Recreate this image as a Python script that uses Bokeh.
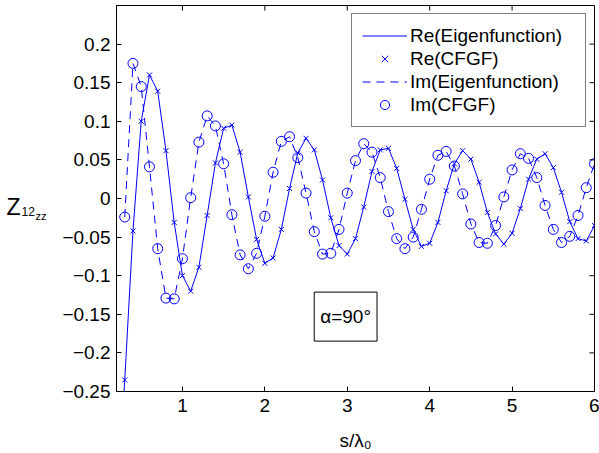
from bokeh.plotting import figure
from bokeh.layouts import row
from bokeh.core.properties import value
from bokeh.models import Range1d, FixedTicker, CustomJSTickFormatter, Label, Legend
from bokeh.embed import file_html
from bokeh.resources import INLINE
import math

# ---------------- data ----------------
s = [0.3, 0.4, 0.5, 0.6, 0.7, 0.8, 0.9, 1.0, 1.1, 1.2,
     1.3, 1.4, 1.5, 1.6, 1.7, 1.8, 1.9, 2.0, 2.1, 2.2,
     2.3, 2.4, 2.5, 2.6, 2.7, 2.8, 2.9, 3.0, 3.1, 3.2,
     3.3, 3.4, 3.5, 3.6, 3.7, 3.8, 3.9, 4.0, 4.1, 4.2,
     4.3, 4.4, 4.5, 4.6, 4.7, 4.8, 4.9, 5.0, 5.1, 5.2,
     5.3, 5.4, 5.5, 5.6, 5.7, 5.8, 5.9, 6.0]

re_cfgf = [-0.235, -0.042, 0.100, 0.160, 0.139, 0.062, -0.031, -0.100, -0.120, -0.089,
           -0.022, 0.046, 0.091, 0.095, 0.060, 0.002, -0.053, -0.084, -0.077, -0.040,
           0.013, 0.059, 0.078, 0.063, 0.024, -0.025, -0.061, -0.072, -0.052, -0.011,
           0.035, 0.063, 0.065, 0.039, -0.001, -0.040, -0.062, -0.058, -0.031, 0.010,
           0.045, 0.062, 0.051, 0.021, -0.018, -0.046, -0.059, -0.045, -0.013, 0.025,
           0.051, 0.058, 0.040, 0.008, -0.030, -0.052, -0.055, -0.035]

im_cfgf = [-0.024, 0.175, 0.145, 0.041, -0.065, -0.129, -0.130, -0.078, 0.001, 0.073,
           0.107, 0.094, 0.045, -0.021, -0.073, -0.091, -0.071, -0.023, 0.034, 0.074,
           0.080, 0.053, 0.007, -0.043, -0.072, -0.071, -0.040, 0.007, 0.049, 0.071,
           0.060, 0.027, -0.017, -0.052, -0.065, -0.050, -0.014, 0.025, 0.056, 0.061,
           0.042, 0.006, -0.033, -0.057, -0.058, -0.035, 0.002, 0.037, 0.058, 0.052,
           0.027, -0.009, -0.040, -0.057, -0.049, -0.022, 0.014, 0.045]

# eigenfunction curves (same samples; the real part starts just below the axis)
s_re_eig = [0.28] + s
re_eig = [-0.27] + re_cfgf
s_im_eig = s
im_eig = im_cfgf

x_ticks = [1, 2, 3, 4, 5, 6]
y_ticks = [-0.25, -0.2, -0.15, -0.1, -0.05, 0, 0.05, 0.1, 0.15, 0.2]
x_lim = (0.2, 6.0)
y_lim = (-0.25, 0.25)

# y-axis title pieces: Z_{12_{zz}}
ytitle_parts = ["Z", "12", "zz"]

FONT = "Liberation Sans"
BLUE = "#0000ff"
FS = "19px"
LABEL_W = 52
H = 453
FRAME_TOP, FRAME_BOTTOM = 5, 391   # pixel rows of the plot frame

# ---------------- narrow strip holding the y-axis title ----------------
# its frame is aligned with the main frame; y range given in pixel rows (flipped)
lab = figure(width=LABEL_W, height=H, output_backend="svg", toolbar_location=None,
             x_range=Range1d(0, LABEL_W), y_range=Range1d(FRAME_BOTTOM, FRAME_TOP))
lab.xaxis.visible = False
lab.yaxis.visible = False
lab.xgrid.visible = False
lab.ygrid.visible = False
lab.outline_line_color = None
lab.min_border = 0
lab.border_fill_color = "white"
lab.background_fill_color = "white"
for txt, x, y, fs in zip(ytitle_parts, [6, 21, 35], [206, 211, 215], ["23px", "12px", "11px"]):
    lab.text(x=[x], y=[y], text=[txt], text_font=value(FONT),
             text_font_size=value(fs), text_color="black",
             text_align="left", text_baseline="alphabetic")

# ---------------- main plot ----------------
p = figure(width=599 - LABEL_W, height=H, output_backend="svg", toolbar_location=None,
           x_range=Range1d(*x_lim), y_range=Range1d(*y_lim))
p.min_border_left = 116 - LABEL_W
p.min_border_right = 5
p.min_border_top = FRAME_TOP
p.min_border_bottom = H - FRAME_BOTTOM
p.xgrid.visible = False
p.ygrid.visible = False
p.outline_line_color = "black"
p.outline_line_width = 1
p.background_fill_color = "white"
p.border_fill_color = "white"

l1 = p.line(s_re_eig, re_eig, line_color=BLUE, line_width=1)
m1 = p.scatter(s, re_cfgf, marker="x", size=7, line_color=BLUE, line_width=1)
l2 = p.line(s_im_eig, im_eig, line_color=BLUE, line_width=1, line_dash="8 6")
m2 = p.scatter(s, im_cfgf, marker="circle", size=10, line_color=BLUE, fill_color=None, line_width=1)

# inward ticks on the top and right edges (dash markers clipped by the frame)
p.scatter(x_ticks, [y_lim[1]] * len(x_ticks), marker="dash", angle=math.pi / 2,
          size=10, line_color="black", line_width=1)
p.scatter([x_lim[1]] * len(y_ticks), y_ticks, marker="dash",
          size=10, line_color="black", line_width=1)

for ax in (p.xaxis[0], p.yaxis[0]):
    ax.major_tick_in = 5
    ax.major_tick_out = 0
    ax.minor_tick_line_color = None
    ax.axis_line_color = "black"
    ax.major_tick_line_color = "black"
    ax.major_label_text_font = FONT
    ax.major_label_text_color = "black"
    ax.major_label_text_font_size = FS

xax = p.xaxis[0]
yax = p.yaxis[0]
xax.ticker = FixedTicker(ticks=x_ticks)
yax.ticker = FixedTicker(ticks=y_ticks)
xax.major_label_standoff = 7
yax.major_label_standoff = 6
yax.formatter = CustomJSTickFormatter(code="""
    const v = Math.round(tick * 100) / 100;
    return v < 0 ? '\\u2212' + String(Math.abs(v)) : String(v);
""")
xax.axis_label = "s/λ₀"
xax.axis_label_text_font = FONT
xax.axis_label_text_font_size = FS
xax.axis_label_text_font_style = "normal"
xax.axis_label_text_color = "black"
xax.axis_label_standoff = 15

# annotation box
p.add_layout(Label(x=2.98, y=-0.153, text="α=90°", text_font=FONT, text_font_size=FS,
                   text_color="black", text_align="center", text_baseline="middle",
                   border_line_color="black", border_line_width=1,
                   background_fill_color="white", padding=(6, 14)))

legend = Legend(items=[("Re(Eigenfunction)", [l1]), ("Re(CFGF)", [m1]),
                       ("Im(Eigenfunction)", [l2]), ("Im(CFGF)", [m2])],
                location="top_right")
legend.margin = 8
legend.padding = 10
legend.spacing = 0
legend.glyph_width = 45
legend.glyph_height = 23
legend.label_height = 23
legend.label_standoff = 3
legend.label_width = 165
legend.label_text_font = FONT
legend.label_text_font_size = FS
legend.label_text_color = "black"
legend.border_line_color = "black"
legend.border_line_width = 1
legend.background_fill_color = "white"
legend.background_fill_alpha = 1
p.add_layout(legend, "center")

layout = row(lab, p, spacing=0)

with open("out.html", "w", encoding="utf-8") as f:
    f.write(file_html(layout, INLINE))
